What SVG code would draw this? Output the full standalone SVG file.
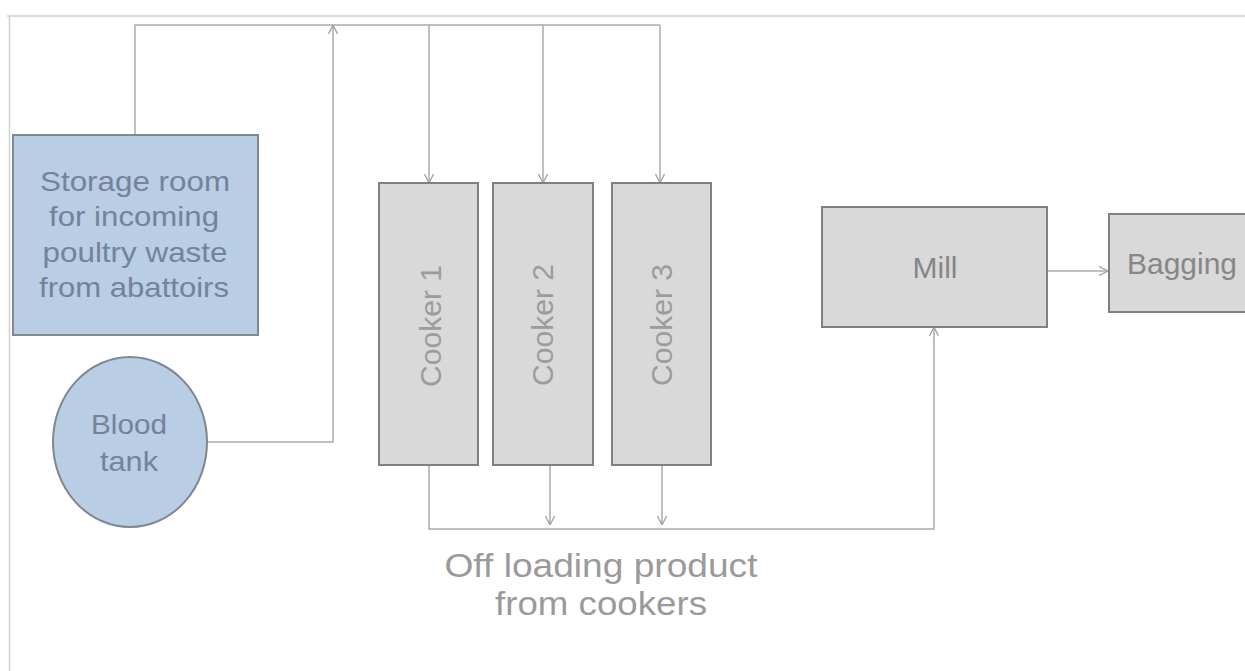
<svg xmlns="http://www.w3.org/2000/svg" width="1245" height="671" viewBox="0 0 1245 671">
<style>
.frame{fill:none;stroke:#cfcfcf;stroke-width:1.5}
.con{fill:none;stroke:#ababab;stroke-width:1.5}
.blue{fill:#b9cde5;stroke:#7f8791;stroke-width:2}
.grey{fill:#d9d9d9;stroke:#808080;stroke-width:2}
.t{font-family:"Liberation Sans",Arial,sans-serif;text-anchor:middle}
.tb{fill:#74829a;font-size:28px}
.tc{fill:#9c9c9c;font-size:30px}
.tm{fill:#868686;font-size:29px}
.tl{fill:#9a9a9a;font-size:33px}
</style>
<defs>
<marker id="arr" viewBox="0 0 10 10" refX="10" refY="5" markerWidth="10" markerHeight="10" markerUnits="userSpaceOnUse" orient="auto">
<path d="M1,0.5 L10,5 L1,9.5" fill="none" stroke="#a0a0a0" stroke-width="1.3"/>
</marker>
</defs>
<rect width="1245" height="671" fill="#ffffff"/>
<path class="frame" d="M7,16 H1245 M9.5,16 V671"/>
<g id="connectors">
<path class="con" d="M135,135 V25 H660"/>
<path class="con" d="M207,442 H333 V25" marker-end="url(#arr)"/>
<path class="con" d="M429,25 V183" marker-end="url(#arr)"/>
<path class="con" d="M543,25 V183" marker-end="url(#arr)"/>
<path class="con" d="M660,25 V183" marker-end="url(#arr)"/>
<path class="con" d="M429,465 V529 H934 V327" marker-end="url(#arr)"/>
<path class="con" d="M550,465 V525" marker-end="url(#arr)"/>
<path class="con" d="M662,465 V525" marker-end="url(#arr)"/>
<path class="con" d="M1047,271 H1108" marker-end="url(#arr)"/>
</g>
<g id="storage">
<rect class="blue" x="13" y="135" width="245" height="200"/>
<text class="t tb" x="135" y="191" textLength="190" lengthAdjust="spacingAndGlyphs">Storage room</text>
<text class="t tb" x="134" y="226" textLength="170" lengthAdjust="spacingAndGlyphs">for incoming</text>
<text class="t tb" x="135" y="262" textLength="185" lengthAdjust="spacingAndGlyphs">poultry waste</text>
<text class="t tb" x="134" y="297" textLength="190" lengthAdjust="spacingAndGlyphs">from abattoirs</text>
</g>
<g id="blood-tank">
<ellipse class="blue" cx="130" cy="442" rx="77" ry="85"/>
<text class="t tb" x="129" y="434" textLength="76" lengthAdjust="spacingAndGlyphs">Blood</text>
<text class="t tb" x="129" y="471" textLength="58" lengthAdjust="spacingAndGlyphs">tank</text>
</g>
<g id="cooker1">
<rect class="grey" x="379" y="183" width="99" height="282"/>
<text class="t tc" transform="translate(441,326) rotate(-90)" x="0" y="0" textLength="122" lengthAdjust="spacingAndGlyphs">Cooker 1</text>
</g>
<g id="cooker2">
<rect class="grey" x="493" y="183" width="100" height="282"/>
<text class="t tc" transform="translate(553,325) rotate(-90)" x="0" y="0" textLength="122" lengthAdjust="spacingAndGlyphs">Cooker 2</text>
</g>
<g id="cooker3">
<rect class="grey" x="612" y="183" width="99" height="282"/>
<text class="t tc" transform="translate(672,325) rotate(-90)" x="0" y="0" textLength="122" lengthAdjust="spacingAndGlyphs">Cooker 3</text>
</g>
<g id="mill">
<rect class="grey" x="822" y="207" width="225" height="120"/>
<text class="t tm" x="935" y="278" textLength="45" lengthAdjust="spacingAndGlyphs">Mill</text>
</g>
<g id="bagging">
<rect class="grey" x="1109" y="214" width="140" height="98"/>
<text class="t tm" x="1182" y="274" textLength="110" lengthAdjust="spacingAndGlyphs">Bagging</text>
</g>
<g id="label">
<text class="t tl" x="601" y="577" textLength="313" lengthAdjust="spacingAndGlyphs">Off loading product</text>
<text class="t tl" x="601" y="615" textLength="212" lengthAdjust="spacingAndGlyphs">from cookers</text>
</g>
</svg>
